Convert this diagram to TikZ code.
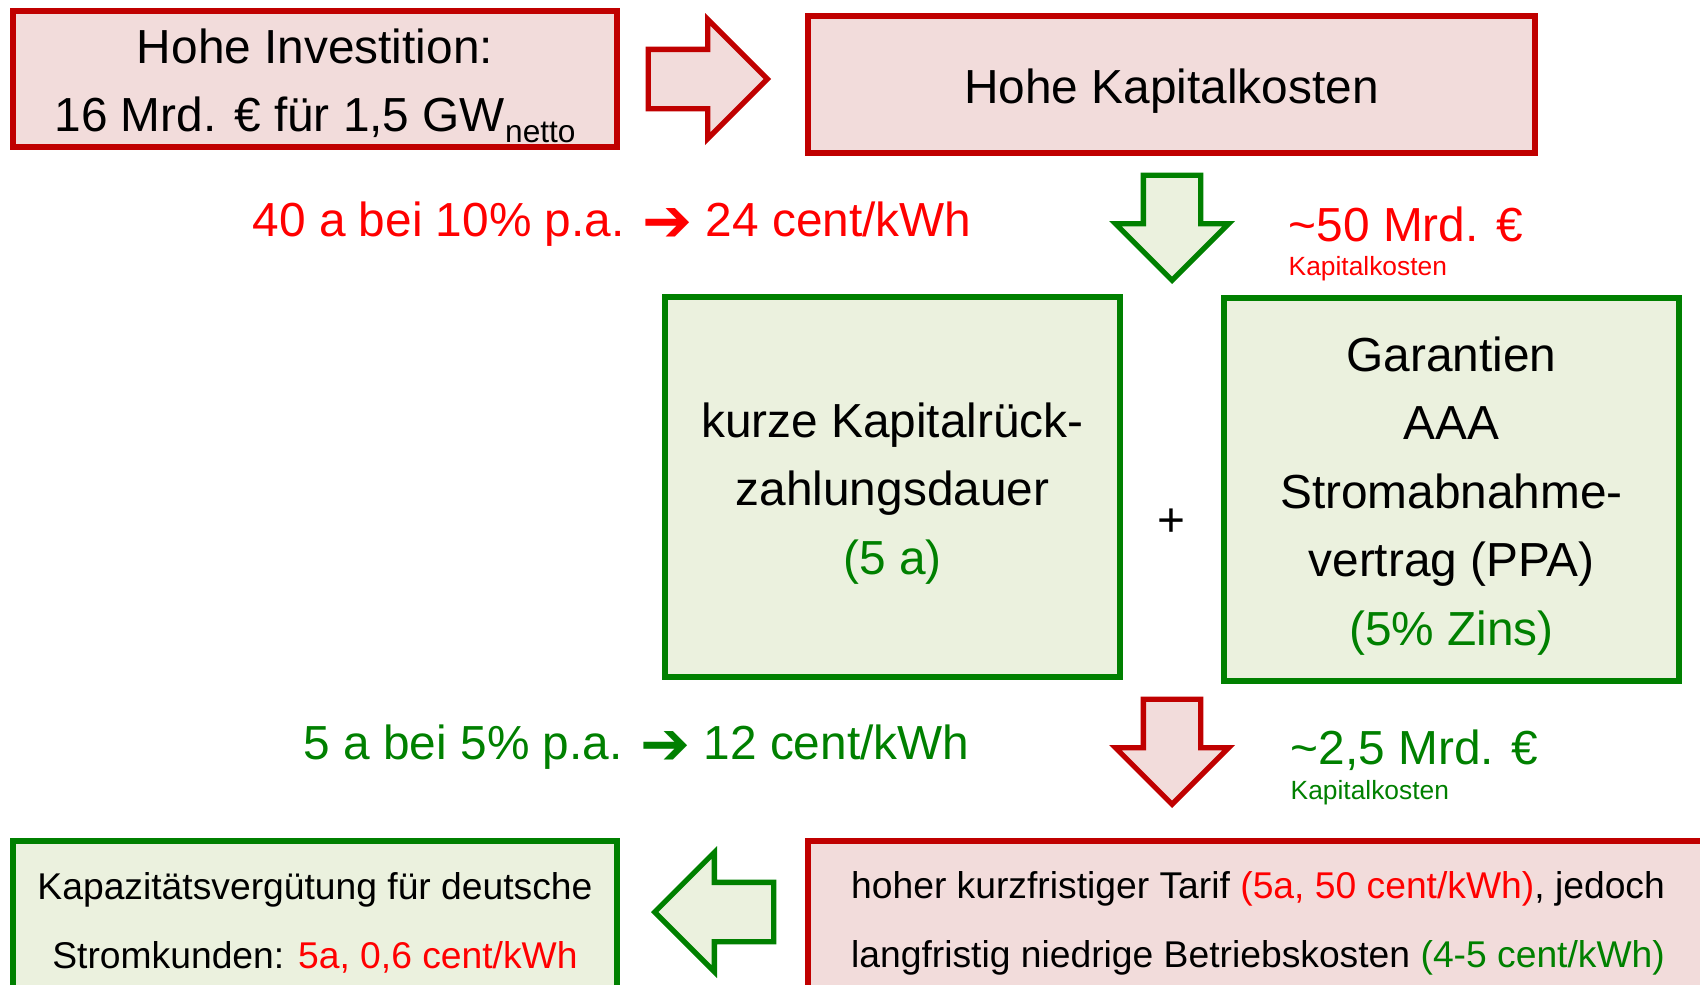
\documentclass[tikz,border=0pt]{standalone}
\usepackage{fontspec}
\setmainfont{Liberation Sans}
\newfontfamily\pfeilfont{DejaVu Sans}
\usetikzlibrary{shapes.arrows}

\definecolor{boxred}{HTML}{C00000}
\definecolor{fillred}{HTML}{F2DCDB}
\definecolor{boxgreen}{HTML}{008000}
\definecolor{fillgreen}{HTML}{EBF1DE}
\definecolor{txtred}{HTML}{FF0000}
\definecolor{txtgreen}{HTML}{008000}

\newcommand{\bigtxt}{\fontsize{13.6pt}{19.5pt}\selectfont}
\newcommand{\midtxt}{\fontsize{10.6pt}{19.6pt}\selectfont}
\newcommand{\smalltxt}{\fontsize{7.5pt}{9pt}\selectfont}
\newcommand{\pfeil}{\raisebox{-0.2ex}{\scalebox{1.25}{\pfeilfont\bfseries ➔}}}
\newcommand{\oben}{\rule{0pt}{1em}}

\tikzset{
	box/.style={line width=1.5pt, align=center, inner sep=0pt},
	redbox/.style={box, draw=boxred, fill=fillred},
	greenbox/.style={box, draw=boxgreen, fill=fillgreen},
	harrow/.style={single arrow, anchor=tip, line width=1.5pt, minimum height=1.19cm, inner xsep=0pt, inner ysep=0.27cm, single arrow head extend=0.3cm},
	varrow/.style={single arrow, anchor=tip, shape border rotate=270, line width=1.5pt, minimum height=1.05cm, inner xsep=0.26cm, inner ysep=0pt, single arrow head extend=0.28cm},
	redline/.style={draw=boxred, fill=fillred},
	greenline/.style={draw=boxgreen, fill=fillgreen},
	label/.style={inner sep=0pt}
}

\begin{document}
\begin{tikzpicture}
		\useasboundingbox (0, 0) rectangle (17, -9.84);

		\node[redbox, minimum width=6.04cm, minimum height=1.36cm, font=\bigtxt] (inv) at (3.15, -0.79) {\oben Hohe Investition:\\16 Mrd. € für 1,5 GW\raisebox{-3pt}{\fontsize{9pt}{9pt}\selectfont netto}};
		\node[harrow, redline] (pfeilA) at (7.71, -0.79) {};
		\node[redbox, minimum width=7.27cm, minimum height=1.37cm, font=\bigtxt] (kap) at (11.715, -0.845) {\oben Hohe Kapitalkosten};

		\node[label, anchor=base, text=txtred, font=\bigtxt] (zins40) at (6.12, -2.36) {40 a bei 10\% p.a. \pfeil{} 24 cent/kWh};
		\node[varrow, greenline] (pfeilB) at (11.72, -2.84) {};
		\node[label, anchor=base west, text=txtred, font=\bigtxt] (kost50) at (12.88, -2.41) {\textasciitilde 50 Mrd. €};
		\node[label, anchor=base west, text=txtred, font=\smalltxt] (kost50txt) at (12.88, -2.75) {Kapitalkosten};

		\node[greenbox, minimum width=4.55cm, minimum height=3.80cm, font=\bigtxt] (rueck) at (8.925, -4.87) {\oben kurze Kapitalrück-\\zahlungsdauer\\\textcolor{txtgreen}{(5 a)}};
		\node[label, font=\bigtxt] (plus) at (11.71, -5.23) {+};
		\node[greenbox, minimum width=4.55cm, minimum height=3.83cm, font=\bigtxt] (garant) at (14.515, -4.895) {\oben Garantien\\AAA\\Stromabnahme-\\vertrag (PPA)\\\textcolor{txtgreen}{(5\% Zins)}};

		\node[label, anchor=base, text=txtgreen, font=\bigtxt] (zins5) at (6.365, -7.59) {5 a bei 5\% p.a. \pfeil{} 12 cent/kWh};
		\node[varrow, redline] (pfeilC) at (11.72, -8.08) {};
		\node[label, anchor=base west, text=txtgreen, font=\bigtxt] (kost25) at (12.90, -7.64) {\textasciitilde 2,5 Mrd. €};
		\node[label, anchor=base west, text=txtgreen, font=\smalltxt] (kost25txt) at (12.90, -7.99) {Kapitalkosten};

		\node[greenbox, minimum width=6.04cm, minimum height=1.54cm, font=\midtxt] (verg) at (3.15, -9.18) {\oben Kapazitätsvergütung für deutsche\\Stromkunden: \textcolor{txtred}{5a, 0,6 cent/kWh}};
		\node[harrow, greenline, shape border rotate=180] (pfeilD) at (6.51, -9.12) {};
		\node[redbox, minimum width=9.0cm, minimum height=1.54cm, font=\midtxt] (tarif) at (12.58, -9.18) {\oben hoher kurzfristiger Tarif \textcolor{txtred}{(5a, 50 cent/kWh)}, jedoch\\langfristig niedrige Betriebskosten \textcolor{txtgreen}{(4-5 cent/kWh)}};
	\end{tikzpicture}
\end{document}
